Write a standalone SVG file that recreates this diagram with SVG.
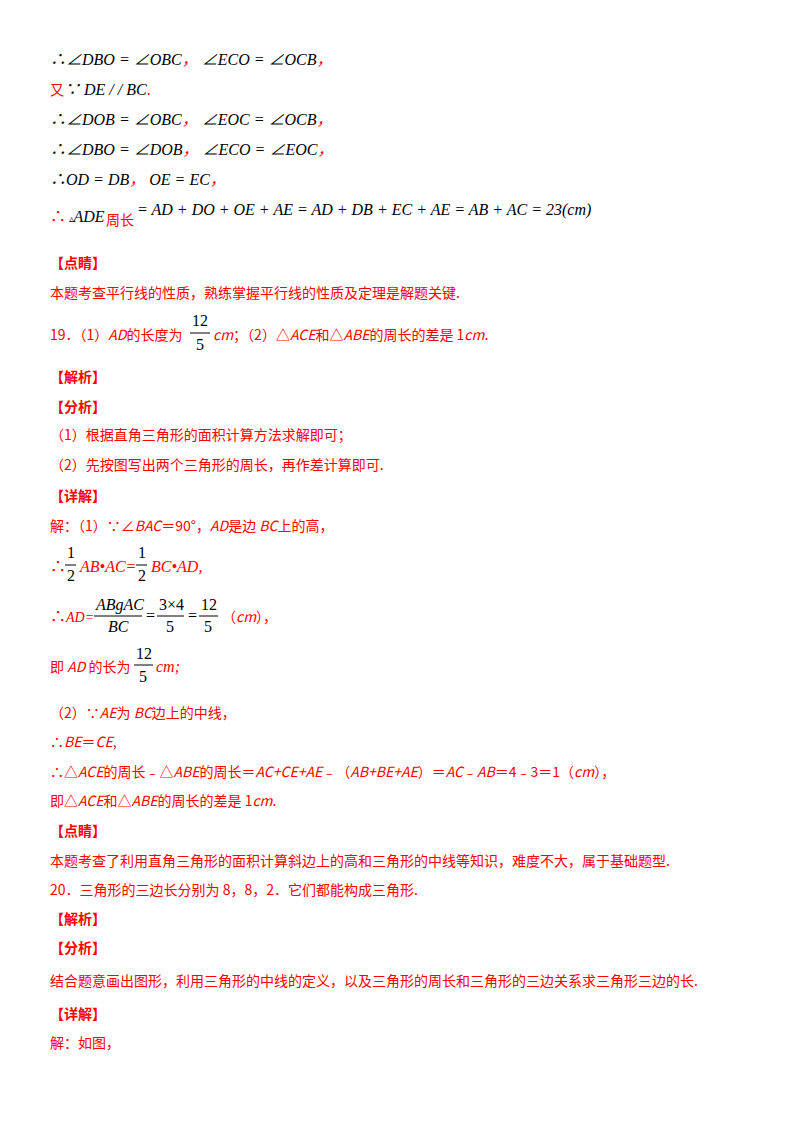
<svg xmlns="http://www.w3.org/2000/svg" width="800" height="1132" viewBox="0 0 800 1132">
<style>
text{font-family:"Liberation Serif","Noto Sans CJK SC",serif;font-size:16px;fill:#000}
.r{fill:#f00}
.c{font-family:"Noto Sans CJK SC","Liberation Sans",sans-serif;font-size:14px}
.i{font-style:italic}
.b{font-weight:bold}
line{stroke:#000;stroke-width:1}
</style>
<rect width="800" height="1132" fill="#fff"/>
<text x="50" y="65" class="i">∴∠DBO = ∠OBC<tspan class="r">，</tspan> ∠ECO = ∠OCB<tspan class="r">，</tspan></text>
<text x="50" y="95"><tspan class="r c">又</tspan><tspan class="i">∵ DE / / BC</tspan><tspan class="r">.</tspan></text>
<text x="50" y="125" class="i">∴∠DOB = ∠OBC<tspan class="r">，</tspan> ∠EOC = ∠OCB<tspan class="r">，</tspan></text>
<text x="50" y="155" class="i">∴∠DBO = ∠DOB<tspan class="r">，</tspan> ∠ECO = ∠EOC<tspan class="r">，</tspan></text>
<text x="50" y="185" class="i">∴OD = DB<tspan class="r">，</tspan> OE = EC<tspan class="r">，</tspan></text>
<text x="50" y="222"><tspan class="r">∴</tspan><tspan font-size="10"> ▵</tspan><tspan class="i">ADE</tspan></text>
<text x="106" y="225" class="r c">周长</text>
<text x="137" y="215" class="i">= AD + DO + OE + AE = AD + DB + EC + AE = AB + AC = 23(cm)</text>
<text x="50" y="268" class="r c b">【点睛】</text>
<text x="50" y="298" class="r c">本题考查平行线的性质，熟练掌握平行线的性质及定理是解题关键.</text>
<text x="50" y="340" class="r c">19．（1）<tspan class="i">AD</tspan>的长度为</text>
<text x="192" y="326">12</text><line x1="190" y1="333" x2="210" y2="333"/><text x="196" y="350">5</text>
<text x="213" y="340" class="r c"><tspan class="i">cm</tspan>；（2）△<tspan class="i">ACE</tspan>和△<tspan class="i">ABE</tspan>的周长的差是 1<tspan class="i">cm</tspan>.</text>
<text x="50" y="382" class="r c b">【解析】</text>
<text x="50" y="412" class="r c b">【分析】</text>
<text x="50" y="440" class="r c">（1）根据直角三角形的面积计算方法求解即可；</text>
<text x="50" y="470" class="r c">（2）先按图写出两个三角形的周长，再作差计算即可.</text>
<text x="50" y="501" class="r c b">【详解】</text>
<text x="50" y="531" class="r c">解：（1）∵∠<tspan class="i">BAC</tspan>＝90°，<tspan class="i">AD</tspan>是边 <tspan class="i">BC</tspan>上的高，</text>
<text x="50" y="572" class="r">∴</text>
<text x="67" y="558">1</text><line x1="65" y1="565" x2="76" y2="565"/><text x="67" y="581">2</text>
<text x="80" y="572" class="r i" font-size="14">AB•AC=</text>
<text x="138" y="558">1</text><line x1="136" y1="565" x2="147" y2="565"/><text x="138" y="581">2</text>
<text x="151" y="572" class="r i" font-size="14">BC•AD,</text>
<text x="50" y="622" class="r"><tspan>∴</tspan><tspan class="i" font-size="14">AD=</tspan></text>
<text x="96" y="610" class="i">ABgAC</text><line x1="94" y1="616" x2="142" y2="616"/><text x="108" y="632" class="i">BC</text>
<text x="146" y="621">=</text>
<text x="159" y="610">3×4</text><line x1="157" y1="616" x2="184" y2="616"/><text x="166" y="632">5</text>
<text x="188" y="621">=</text>
<text x="201" y="610">12</text><line x1="199" y1="616" x2="218" y2="616"/><text x="204" y="632">5</text>
<text x="222" y="622" class="r c">（<tspan class="i">cm</tspan>），</text>
<text x="50" y="672" class="r c">即 <tspan class="i">AD</tspan> 的长为</text>
<text x="136" y="659">12</text><line x1="134" y1="665" x2="153" y2="665"/><text x="139" y="682">5</text>
<text x="156" y="672" class="r i" font-size="14">cm;</text>
<text x="50" y="718" class="r c">（2）∵<tspan class="i">AE</tspan>为 <tspan class="i">BC</tspan>边上的中线，</text>
<text x="50" y="747" class="r c">∴<tspan class="i">BE</tspan>＝<tspan class="i">CE</tspan>,</text>
<text x="50" y="777" class="r c">∴△<tspan class="i">ACE</tspan>的周长﹣△<tspan class="i">ABE</tspan>的周长＝<tspan class="i">AC+CE+AE</tspan>﹣（<tspan class="i">AB+BE+AE</tspan>）＝<tspan class="i">AC</tspan>﹣<tspan class="i">AB</tspan>＝4﹣3＝1（<tspan class="i">cm</tspan>），</text>
<text x="50" y="806" class="r c">即△<tspan class="i">ACE</tspan>和△<tspan class="i">ABE</tspan>的周长的差是 1<tspan class="i">cm</tspan>.</text>
<text x="50" y="836" class="r c b">【点睛】</text>
<text x="50" y="866" class="r c">本题考查了利用直角三角形的面积计算斜边上的高和三角形的中线等知识，难度不大，属于基础题型.</text>
<text x="50" y="895" class="r c">20．三角形的三边长分别为 8，8，2．它们都能构成三角形.</text>
<text x="50" y="924" class="r c b">【解析】</text>
<text x="50" y="953" class="r c b">【分析】</text>
<text x="50" y="986" class="r c">结合题意画出图形，利用三角形的中线的定义，以及三角形的周长和三角形的三边关系求三角形三边的长.</text>
<text x="50" y="1019" class="r c b">【详解】</text>
<text x="50" y="1048" class="r c">解：如图，</text>
</svg>
